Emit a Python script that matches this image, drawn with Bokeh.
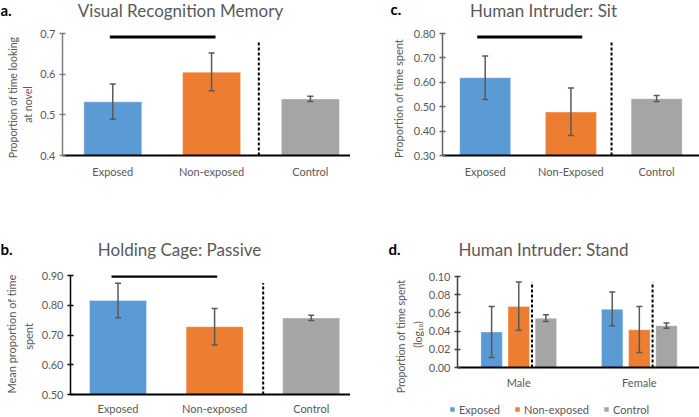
from bokeh.plotting import figure
from bokeh.models import (Range1d, FixedTicker, Label, Whisker, TeeHead, ColumnDataSource,
                          PrintfTickFormatter, Legend, LegendItem)
from bokeh.layouts import column, row
from bokeh.embed import file_html
from bokeh.resources import INLINE
import math

# ---------------- data ----------------
a_categories = ["Exposed", "Non-exposed", "Control"]
a_means = [0.532, 0.605, 0.539]
a_lower = [0.489, 0.559, 0.533]
a_upper = [0.576, 0.652, 0.546]
a_yticks = [0.4, 0.5, 0.6, 0.7]

c_categories = ["Exposed", "Non-Exposed", "Control"]
c_means = [0.619, 0.478, 0.533]
c_lower = [0.530, 0.382, 0.521]
c_upper = [0.708, 0.577, 0.546]
c_yticks = [0.30, 0.40, 0.50, 0.60, 0.70, 0.80]

b_categories = ["Exposed", "Non-exposed", "Control"]
b_means = [0.816, 0.728, 0.757]
b_lower = [0.758, 0.666, 0.749]
b_upper = [0.874, 0.789, 0.766]
b_yticks = [0.50, 0.60, 0.70, 0.80, 0.90]

d_groups = ["Male", "Female"]
d_series = ["Exposed", "Non-exposed", "Control"]
d_exposed_mean = [0.039, 0.064]
d_exposed_lower = [0.011, 0.046]
d_exposed_upper = [0.067, 0.083]
d_nonexp_mean = [0.067, 0.0415]
d_nonexp_lower = [0.041, 0.0165]
d_nonexp_upper = [0.094, 0.067]
d_control_mean = [0.054, 0.046]
d_control_lower = [0.0505, 0.043]
d_control_upper = [0.058, 0.049]
d_yticks = [0.00, 0.02, 0.04, 0.06, 0.08, 0.10]

colors = ["#5B9BD5", "#ED7D31", "#A5A5A5"]

# ---------------- styling helpers ----------------
FONT = "Lato"
TXT = "#595959"
ERR = "#595959"


def strip(w, h):
    """A plain text strip: its frame is the whole figure, coordinates are pixels."""
    s = figure(width=w, height=h, output_backend="svg", toolbar_location=None,
               x_range=Range1d(0, w), y_range=Range1d(h, 0), min_border=0,
               x_axis_location=None, y_axis_location=None, frame_align=False)
    s.outline_line_color = None
    s.grid.visible = False
    s.background_fill_color = "white"
    s.border_fill_color = "white"
    return s


def add_text(s, x, y, text, size, color=TXT, bold=False, angle=0.0, align="center"):
    s.add_layout(Label(x=x, y=y, text=text, text_font=FONT, text_font_size=size,
                       text_color=color, text_font_style="bold" if bold else "normal",
                       angle=angle, text_align=align, text_baseline="middle"))


def make_panel(w, h, frame, xr, yr, yticks, fmt, axis_color, xticks, xlabels, x_standoff):
    L, R, T, B = frame
    p = figure(width=w, height=h, output_backend="svg", toolbar_location=None,
               x_range=Range1d(*xr), y_range=Range1d(*yr),
               min_border_left=L, min_border_right=w - R,
               min_border_top=T, min_border_bottom=h - B, frame_align=False)
    p.outline_line_color = None
    p.xgrid.visible = False
    p.ygrid.visible = False
    p.background_fill_color = "white"
    p.border_fill_color = "white"
    yax = p.yaxis[0]
    yax.ticker = FixedTicker(ticks=yticks)
    yax.formatter = PrintfTickFormatter(format=fmt)
    yax.axis_line_color = axis_color
    yax.axis_line_width = 1.5
    yax.major_tick_line_color = axis_color
    yax.major_tick_line_width = 1.5
    yax.major_tick_in = 3
    yax.major_tick_out = 3
    yax.minor_tick_line_color = None
    yax.major_label_text_font = FONT
    yax.major_label_text_font_size = "11px"
    yax.major_label_text_color = TXT
    yax.major_label_standoff = 4
    xax = p.xaxis[0]
    xax.ticker = FixedTicker(ticks=xticks)
    xax.major_label_overrides = {t: lab for t, lab in zip(xticks, xlabels)}
    xax.axis_line_color = "black"
    xax.axis_line_width = 2
    xax.major_tick_line_color = None
    xax.minor_tick_line_color = None
    xax.major_tick_in = 0
    xax.major_tick_out = 0
    xax.major_label_text_font = FONT
    xax.major_label_text_font_size = "11px"
    xax.major_label_text_color = TXT
    xax.major_label_standoff = x_standoff
    return p


def add_bars(p, xs, means, lower, upper, width, color_list, base):
    src = ColumnDataSource(dict(x=xs, top=means, lower=lower, upper=upper, color=color_list))
    r = p.vbar(x="x", top="top", bottom=base, width=width, source=src,
               fill_color="color", line_color="white", line_alpha=0.35, line_width=1)
    p.add_layout(Whisker(source=src, base="x", upper="upper", lower="lower",
                         line_color=ERR, line_width=1.5, level="annotation",
                         upper_head=TeeHead(size=6, line_color=ERR, line_width=1.5),
                         lower_head=TeeHead(size=6, line_color=ERR, line_width=1.5)))
    return r


def add_separator(p, x, y_bottom, y_top):
    p.segment(x0=[x], y0=[y_bottom], x1=[x], y1=[y_top], line_color="black",
              line_width=2, line_dash="3 2")


def add_sig(p, x_start, x_end, y):
    p.segment(x0=[x_start], y0=[y], x1=[x_end], y1=[y], line_color="black", line_width=3)


# ---------------- panel a (350 x 200) ----------------
ha = strip(350, 21)
add_text(ha, 0, 9, "a.", "15px", color="black", bold=True, align="left")
add_text(ha, 180, 9.5, "Visual Recognition Memory", "17px")
la = strip(35, 179)
add_text(la, 12, 76, "Proportion of time looking", "10.5px", angle=math.pi / 2)
add_text(la, 27, 83, "at novel", "10.5px", angle=math.pi / 2)
pa = make_panel(315, 179, (27, 315, 12, 134), (-0.509, 2.406), (0.4, 0.7),
                a_yticks, "%.1f", "#7F7F7F", [0, 1, 2], a_categories, 9)
a_x = list(range(len(a_categories)))
add_bars(pa, a_x, a_means, a_lower, a_upper, 0.587, colors, a_yticks[0])
add_separator(pa, (a_x[1] + a_x[2]) / 2 - 0.022, a_yticks[0], 0.679)
add_sig(pa, a_x[0] - 0.03, a_x[1] + 0.04, 0.6916)
panel_a = column(ha, row(la, pa))

# ---------------- panel c (349 x 200) ----------------
hc = strip(349, 21)
add_text(hc, 40, 8, "c.", "15px", color="black", bold=True, align="left")
add_text(hc, 193, 9.5, "Human Intruder: Sit", "17px")
lc = strip(57, 179)
add_text(lc, 48, 77, "Proportion of time spent", "11px", angle=math.pi / 2)
pc = make_panel(292, 179, (35, 292, 12, 134), (-0.498, 2.5), (0.3, 0.8),
                c_yticks, "%.2f", "#666666", [0, 1, 2], c_categories, 9)
c_x = list(range(len(c_categories)))
add_bars(pc, c_x, c_means, c_lower, c_upper, 0.595, colors, c_yticks[0])
add_separator(pc, (c_x[1] + c_x[2]) / 2 - 0.026, c_yticks[0], 0.7655)
add_sig(pc, c_x[0] - 0.093, c_x[1] + 0.132, 0.786)
panel_c = column(hc, row(lc, pc))

# ---------------- panel b (350 x 217) ----------------
hb = strip(350, 62)
add_text(hb, 0, 48, "b.", "15px", color="black", bold=True, align="left")
add_text(hb, 179, 48.5, "Holding Cage: Passive", "17px")
lb = strip(37, 155)
add_text(lb, 10.5, 71.5, "Mean proportion of time", "11px", angle=math.pi / 2)
add_text(lb, 28, 74, "spent", "11px", angle=math.pi / 2)
pb = make_panel(313, 155, (33, 313, 13, 134), (-0.492, 2.407), (0.5, 0.9),
                b_yticks, "%.2f", "#000000", [0, 1, 2], b_categories, 7)
b_x = list(range(len(b_categories)))
add_bars(pb, b_x, b_means, b_lower, b_upper, 0.59, colors, b_yticks[0])
add_separator(pb, (b_x[1] + b_x[2]) / 2 + 0.003, b_yticks[0], 0.8747)
add_sig(pb, b_x[0] - 0.067, b_x[1] + 0.027, 0.8978)
panel_b = column(hb, row(lb, pb))

# ---------------- panel d (349 x 217) ----------------
hd = strip(349, 62)
add_text(hd, 38, 48, "d.", "15px", color="black", bold=True, align="left")
add_text(hd, 193, 48.5, "Human Intruder: Stand", "17px")
ld = strip(74, 155)
add_text(ld, 50, 74, "Proportion of time spent", "10.5px", angle=math.pi / 2)
add_text(ld, 67, 72, "(log\u2081\u2080)", "10.5px", angle=math.pi / 2)
pd_ = make_panel(275, 138, (33, 275, 14, 105), (-0.508, 1.499), (0.0, 0.1),
                 d_yticks, "%.2f", "#404040", [0, 1], d_groups, 8)
g = list(range(len(d_groups)))
offsets = [-0.225, 0.0, 0.225]
d_means = [d_exposed_mean, d_nonexp_mean, d_control_mean]
d_lows = [d_exposed_lower, d_nonexp_lower, d_control_lower]
d_ups = [d_exposed_upper, d_nonexp_upper, d_control_upper]
for k, name in enumerate(d_series):
    xs = [gi + offsets[k] for gi in g]
    add_bars(pd_, xs, d_means[k], d_lows[k], d_ups[k], 0.178,
             [colors[k]] * len(g), d_yticks[0])
for gi in g:
    add_separator(pd_, gi + 0.11, d_yticks[0], 0.0938)

# legend strip under panel d: proxy swatches (one off-screen point each, styled like the bars)
lg = strip(275, 17)
swatches = [lg.vbar(x=[-50], top=[-50], bottom=-60, width=1, fill_color=c,
                    line_color="white", line_alpha=0.35) for c in colors]
legend = Legend(items=[LegendItem(label=n, renderers=[r]) for n, r in zip(d_series, swatches)],
                orientation="horizontal", location=(25, 1),
                glyph_width=6, glyph_height=6, label_standoff=4, spacing=14,
                label_height=14, padding=0, margin=0, border_line_color=None,
                background_fill_alpha=0,
                label_text_font=FONT, label_text_font_size="11px", label_text_color=TXT)
lg.add_layout(legend)
panel_d = column(hd, row(ld, column(pd_, lg)))

layout = column(row(panel_a, panel_c), row(panel_b, panel_d))

with open("out.html", "w") as f:
    f.write(file_html(layout, INLINE))
